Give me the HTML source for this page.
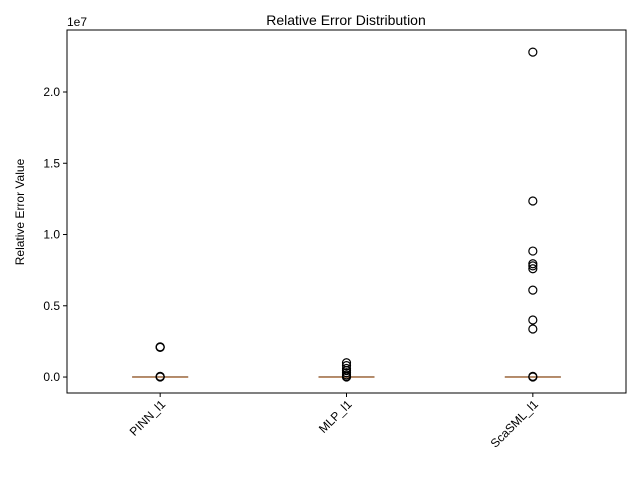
<!DOCTYPE html>
<html><head><meta charset="utf-8"><style>body{margin:0;background:#fff}svg text{font-family:"Liberation Sans","DejaVu Sans",sans-serif}</style></head>
<body>
<svg id="c" width="640" height="480" xmlns="http://www.w3.org/2000/svg">
<rect width="640" height="480" fill="#fff"/>
<text x="346" y="25" text-anchor="middle" font-size="14">Relative Error Distribution</text>
<text x="24" y="212" text-anchor="middle" font-size="12" transform="rotate(-90 24 212)">Relative Error Value</text>
<text x="67" y="26" font-size="12">1e7</text>
<g id="g"></g>
<rect x="67" y="30" width="559" height="363" fill="none" stroke="#000" stroke-width="1"/>
</svg>
<script>
const categories=["PINN_l1","MLP_l1","ScaSML_l1"];
const yTicks=[0,0.5,1.0,1.5,2.0];
const tickLabels=["0.0","0.5","1.0","1.5","2.0"];
const pinnOutliers=[2.1e6,2.08e6,2.12e6,5e4,2e4,0];
const mlpOutliers=[1.0e6,0.8e6,0.6e6,0.45e6,0.3e6,0.15e6,5e4,0];
const scasmlOutliers=[2.28e7,1.235e7,8.84e6,7.95e6,7.8e6,7.6e6,6.1e6,4.0e6,3.37e6,5e4,0];
const medians=[0,0,0];
const outliers=[pinnOutliers,mlpOutliers,scasmlOutliers];
const L=67,R=626,T=30,B=393,yMin=-1.12e6,yMax=2.435e7;
const X=i=>L+(i+0.5)*(R-L)/3;
const Y=v=>B-(v-yMin)/(yMax-yMin)*(B-T);
const g=document.getElementById('g');const NS='http://www.w3.org/2000/svg';
function mk(t,a,txt){const e=document.createElementNS(NS,t);for(const k in a)e.setAttribute(k,a[k]);if(txt!=null)e.textContent=txt;g.appendChild(e);return e;}
yTicks.forEach((t,i)=>{const y=Y(t*1e7);
 let e=mk('line',{x1:L-4,x2:L,y1:y,y2:y,stroke:'#000'});
 
 
 e=mk('text',{x:L-7,y:y+4,'text-anchor':'end','font-size':12},tickLabels[i]);
 
 });
categories.forEach((c,i)=>{const x=X(i);
 let e=mk('line',{x1:x,x2:x,y1:B,y2:B+4,stroke:'#000'});
 
 
 e=mk('text',{x:x+6,y:B+12,'text-anchor':'end','font-size':12,transform:`rotate(-45 ${x+6} ${B+12})`},c);
 
 
 const ym=Y(medians[i]);
 e=mk('line',{x1:x-28,x2:x+28,y1:ym,y2:ym,stroke:'#777','stroke-width':2});
 
 
 e=mk('line',{x1:x-28,x2:x+28,y1:ym,y2:ym,stroke:'#f0a060','stroke-width':1.2,'stroke-opacity':0.9});
 
 
 outliers[i].forEach(v=>{e=mk('circle',{cx:x,cy:Y(v),r:4,fill:'none',stroke:'#000','stroke-width':1.2});
  
  });
});
</script>
</body></html>
